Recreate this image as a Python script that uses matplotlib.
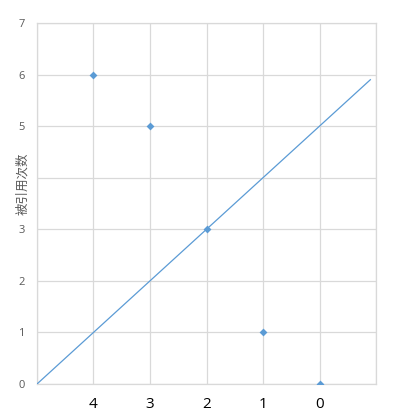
import numpy as np
import matplotlib
matplotlib.use("Agg")
import matplotlib.pyplot as plt

# data (x axis runs right-to-left)
x_vals = [4, 3, 2, 1, 0]
y_vals = [6, 5, 3, 1, 0]
line_x = [5, -0.9]
line_y = [0, 5.9]
x_ticks = [4, 3, 2, 1, 0]
y_ticks = [0, 1, 2, 3, 4, 5, 6, 7]
y_labels = ["0", "1", "2", "3", "", "5", "6", "7"]  # "4" is hidden under the axis title

BLUE = "#5B9BD5"
GRID = "#D9D9D9"

fig = plt.figure(figsize=(4.11, 4.20), dpi=100)
ax = fig.add_axes([37 / 411, 1 - 384 / 420, (376 - 37) / 411, (384 - 23) / 420])

ax.plot(line_x, line_y, color=BLUE, lw=0.9, zorder=3)
ax.scatter(x_vals, y_vals, marker="D", s=16, color=BLUE, zorder=4, linewidths=0)

ax.set_xlim(5, -1)
ax.set_ylim(0, 7)
ax.set_xticks(np.arange(-1, 6))
ax.set_xticklabels(["" if v not in x_ticks else str(v) for v in np.arange(-1, 6)])
ax.set_yticks(y_ticks)
ax.set_yticklabels(y_labels)
ax.grid(True, color=GRID, lw=0.9)
ax.set_axisbelow(True)
for s in ax.spines.values():
    s.set_color(GRID)
    s.set_linewidth(0.9)

ax.tick_params(axis="x", length=0, pad=9, labelsize=11, labelcolor="black")
ax.tick_params(axis="y", length=0, pad=9, labelsize=8, labelcolor="#595959")
for t in ax.get_xticklabels() + ax.get_yticklabels():
    t.set_family(["Open Sans", "DejaVu Sans"])

fig.text(23 / 411, 1 - 184 / 420, "被引用次数", rotation=90, ha="center", va="center",
         fontsize=9, color="#595959", family=["Noto Sans CJK SC", "DejaVu Sans"])

fig.savefig("out.png", dpi=100)
